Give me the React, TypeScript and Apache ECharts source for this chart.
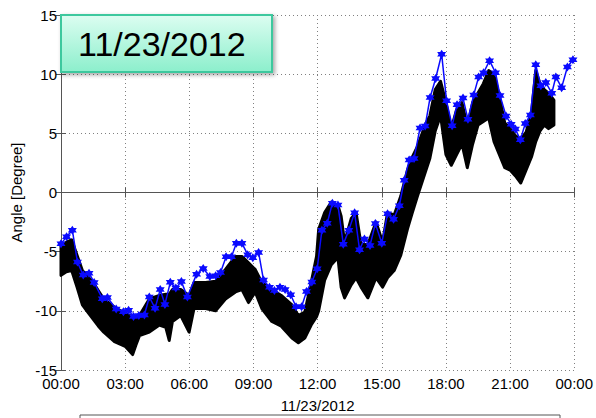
import React, { useEffect, useRef } from "react";
import * as echarts from "echarts";

// Blue series (sampled roughly every 15 min) — hours of day, angle in degrees
const blueHours = [
  0.0, 0.26, 0.53, 0.77, 1.04, 1.31, 1.55, 1.93, 2.17, 2.58, 2.92, 3.16, 3.39, 3.64, 3.9,
  4.13, 4.4, 4.64, 4.86, 5.11, 5.37, 5.63, 5.91, 6.34, 6.65, 6.96, 7.23, 7.46, 7.72, 7.97,
  8.2, 8.46, 8.73, 8.97, 9.24, 9.47, 9.75, 9.98, 10.24, 10.48, 10.74, 10.99, 11.25, 11.48,
  11.73, 11.98, 12.2, 12.45, 12.69, 12.95, 13.2, 13.46, 13.73, 13.96, 14.19, 14.45, 14.7,
  15.0, 15.27, 15.55, 15.82, 16.05, 16.28, 16.51, 16.79, 17.03, 17.26, 17.52, 17.8, 18.03,
  18.29, 18.52, 18.8, 19.03, 19.3, 19.53, 19.76, 20.04, 20.32, 20.53, 20.81, 21.05, 21.25,
  21.48, 21.71, 21.95, 22.2, 22.44, 22.67, 22.95, 23.14, 23.41, 23.68, 23.94,
];
const blueAngles = [
  -4.34, -3.73, -3.18, -5.88, -6.98, -6.82, -7.6, -8.97, -8.88, -9.85, -10.07, -9.96, -10.48,
  -10.4, -10.35, -8.83, -9.79, -8.2, -9.46, -7.59, -8.08, -7.53, -8.83, -6.9, -6.43, -7.09,
  -7.04, -6.76, -5.44, -5.44, -4.28, -4.28, -5.25, -5.52, -5.06, -7.4, -8.0, -8.28, -8.0,
  -8.2, -8.64, -9.65, -9.65, -8.36, -7.57, -6.45, -3.18, -2.6, -0.9, -1.06, -4.37, -3.18,
  -1.72, -4.83, -3.93, -4.48, -2.63, -4.28, -1.8, -2.27, -1.12, 1.03, 2.74, 2.88, 5.45, 5.63,
  8.03, 9.63, 11.69, 7.75, 5.64, 7.42, 7.98, 6.18, 8.25, 9.77, 10.12, 11.14, 10.12, 8.2, 6.46,
  5.77, 5.36, 4.45, 5.83, 6.55, 10.79, 9.02, 9.3, 8.39, 9.77, 8.86, 10.6, 11.22,
];

// Black dense series, read as an upper / lower envelope
const bandHours = [
  0.0, 0.25, 0.5, 0.75, 1.0, 1.25, 1.5, 1.75, 2.0, 2.5, 3.0, 3.35, 3.5, 3.67, 4.13, 4.6, 4.9,
  5.06, 5.21, 5.6, 5.99, 6.22, 6.76, 7.23, 7.69, 8.16, 8.46, 8.77, 9.08, 9.39, 9.86, 10.3,
  10.8, 11.1, 11.4, 11.7, 11.95, 12.05, 12.33, 12.64, 12.95, 13.1, 13.26, 13.57, 13.8, 14.03,
  14.35, 14.73, 15.04, 15.27, 15.58, 15.89, 16.2, 16.43, 16.67, 17.05, 17.25, 17.5, 17.75,
  18.0, 18.25, 18.5, 18.75, 19.0, 19.25, 19.5, 19.75, 20.0, 20.25, 20.5, 20.75, 21.0, 21.25,
  21.5, 21.75, 22.0, 22.2, 22.4, 22.6, 22.8, 23.05,
];
const bandUpper = [
  -4.5, -4.2, -4.0, -5.3, -6.6, -7.1, -7.6, -8.3, -9.0, -9.7, -10.2, -10.5, -10.5, -10.4, -9.0,
  -8.7, -8.6, -8.6, -8.2, -8.2, -8.7, -7.6, -7.6, -7.5, -6.5, -5.4, -5.4, -5.95, -6.5, -7.6,
  -8.2, -8.7, -9.5, -10.4, -10.1, -7.6, -5.4, -3.1, -1.7, -0.8, -1.1, -2.0, -4.2, -2.2, -1.7,
  -4.4, -4.4, -2.5, -4.2, -1.7, -1.9, -0.3, 1.9, 3.0, 3.9, 5.8, 6.5, 8.7, 9.4, 7.6, 5.4, 7.0,
  7.6, 5.6, 7.6, 8.4, 9.2, 10.3, 10.0, 8.1, 5.9, 5.4, 4.8, 4.5, 5.1, 6.7, 10.3, 9.2, 8.7, 8.4,
  7.8,
];
const bandLower = [
  -7.0, -6.7, -6.6, -8.0, -9.5, -10.1, -10.7, -11.3, -11.8, -12.6, -13.0, -13.7, -12.9, -12.1,
  -11.8, -11.2, -11.4, -12.5, -10.9, -10.4, -11.8, -9.8, -9.8, -10.0, -9.0, -8.4, -8.2, -9.3,
  -8.4, -9.8, -10.9, -11.3, -12.3, -12.7, -12.3, -11.2, -10.5, -10.0, -7.4, -6.1, -5.5, -8.0,
  -8.9, -7.8, -7.2, -8.0, -8.9, -7.2, -8.0, -7.2, -6.6, -5.3, -3.1, -1.7, -0.3, 1.8, 2.9, 5.2,
  6.5, 3.2, 2.3, 3.2, 4.1, 2.1, 4.1, 5.7, 6.0, 6.3, 4.3, 3.2, 2.1, 1.9, 1.4, 0.8, 1.9, 3.0,
  4.3, 5.2, 5.7, 5.4, 5.7,
];

const xTickLabels = ["00:00", "03:00", "06:00", "09:00", "12:00", "15:00", "18:00", "21:00", "00:00"];
const titleText = "11/23/2012";
const xAxisTitle = "11/23/2012";
const yAxisTitle = "Angle [Degree]";

const FONT = '"Liberation Sans", Arial, Helvetica, sans-serif';
const STAR =
  "path://M50,0 L64.4,25 L93.3,25 L78.9,50 L93.3,75 L64.4,75 L50,100 L35.6,75 L6.7,75 L21.1,50 L6.7,25 L35.6,25 Z";

export default function App() {
  const ref = useRef<HTMLDivElement>(null);
  useEffect(() => {
    if (!ref.current) return;
    const chart = echarts.init(ref.current, null, { renderer: "svg" });
    const axisColor = "#555";
    const gridLine = { show: true, lineStyle: { color: "#808080", type: [1, 3] as any, width: 1 } };
    const label = { color: "#000", fontSize: 15, fontFamily: FONT };
    chart.setOption({
      animation: false,
      backgroundColor: "#fff",
      grid: { left: 61, top: 15, width: 517, height: 362, containLabel: false },
      xAxis: [
        {
          type: "value",
          position: "bottom",
          min: 0,
          max: 24,
          interval: 3,
          axisLine: { show: true, lineStyle: { color: axisColor, width: 1 } },
          axisTick: { show: true, inside: true, length: 5, lineStyle: { color: axisColor } },
          axisLabel: { ...label, margin: 6, formatter: (v: number) => xTickLabels[Math.round(v / 3)] },
          splitLine: gridLine,
          name: xAxisTitle,
          nameLocation: "middle",
          nameGap: 28,
          nameTextStyle: { ...label },
        },
        {
          type: "value",
          position: "top",
          min: 0,
          max: 24,
          interval: 3,
          axisLine: { show: true, lineStyle: { color: axisColor, width: 1 } },
          axisTick: { show: true, inside: true, length: 5, lineStyle: { color: axisColor } },
          axisLabel: { show: false },
          splitLine: { show: false },
        },
      ],
      yAxis: [
        {
          type: "value",
          position: "left",
          min: -15,
          max: 15,
          interval: 5,
          axisLine: { show: true, lineStyle: { color: axisColor, width: 1 } },
          axisTick: { show: true, inside: true, length: 5, lineStyle: { color: axisColor } },
          axisLabel: { ...label, margin: 4 },
          splitLine: gridLine,
          name: yAxisTitle,
          nameLocation: "middle",
          nameGap: 31,
          nameRotate: 90,
          nameTextStyle: { ...label },
        },
        {
          type: "value",
          position: "right",
          min: -15,
          max: 15,
          interval: 5,
          axisLine: { show: true, lineStyle: { color: axisColor, width: 1 } },
          axisTick: { show: true, inside: true, length: 5, lineStyle: { color: axisColor } },
          axisLabel: { show: false },
          splitLine: { show: false },
        },
      ],
      series: [
        {
          type: "custom",
          name: "band",
          xAxisIndex: 0,
          yAxisIndex: 0,
          data: [[bandHours[0], bandUpper[0]]],
          renderItem: (_params: any, api: any) => {
            const pts: number[][] = [];
            for (let i = 0; i < bandHours.length; i++) pts.push(api.coord([bandHours[i], bandUpper[i]]));
            for (let i = bandHours.length - 1; i >= 0; i--) pts.push(api.coord([bandHours[i], bandLower[i]]));
            return {
              type: "polygon",
              shape: { points: pts },
              style: { fill: "#000", stroke: "#000", lineWidth: 3, lineJoin: "round" },
            };
          },
          z: 2,
        },
        {
          type: "line",
          name: "blue",
          xAxisIndex: 0,
          yAxisIndex: 0,
          data: blueHours.map((h, i) => [h, blueAngles[i]]),
          symbol: STAR,
          symbolSize: 9,
          showAllSymbol: true,
          lineStyle: { color: "#0a0aff", width: 1.5 },
          itemStyle: { color: "#0a0aff" },
          z: 3,
        },
      ],
      graphic: [
        {
          type: "rect",
          z: 100,
          shape: { x: 61, y: 15, width: 211, height: 57 },
          style: {
            fill: new echarts.graphic.LinearGradient(0, 0, 0, 1, [
              { offset: 0, color: "#dcfdf1" },
              { offset: 1, color: "#8cefcc" },
            ]),
            stroke: "#3cc89e",
            lineWidth: 2,
            shadowBlur: 4,
            shadowOffsetX: 2,
            shadowOffsetY: 2,
            shadowColor: "rgba(0,0,0,0.35)",
          },
        },
        {
          type: "text",
          z: 101,
          style: {
            text: titleText,
            x: 78,
            y: 44,
            verticalAlign: "middle",
            font: `34px ${FONT}`,
            fill: "#000",
          },
        },
        {
          type: "rect",
          z: 50,
          shape: { x: 80, y: 415, width: 480, height: 30 },
          style: { fill: "#fff", stroke: "#555", lineWidth: 1 },
        },
      ],
    });
    return () => chart.dispose();
  }, []);
  return <div ref={ref} style={{ position: "fixed", left: 0, top: 0, width: 596, height: 418 }} />;
}
